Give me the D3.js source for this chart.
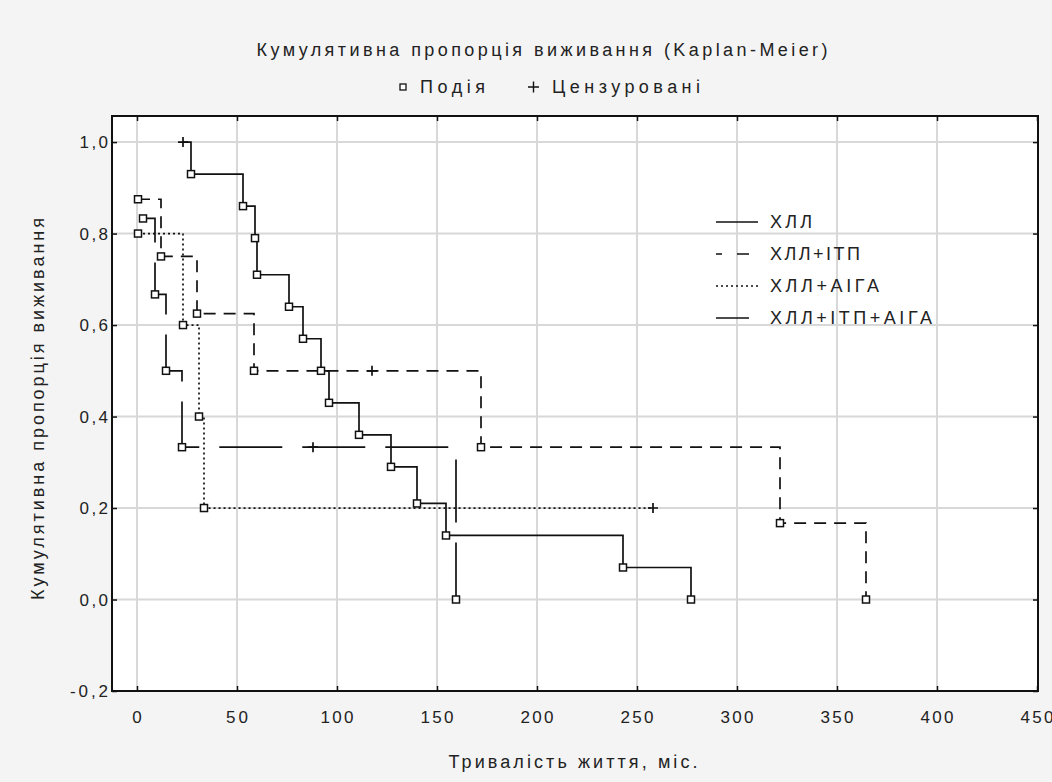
<!DOCTYPE html>
<html>
<head>
<meta charset="utf-8">
<script src="https://cdn.jsdelivr.net/npm/d3@7"></script>
<style>
  html, body { margin: 0; padding: 0; background: #f4f4f4; }
  svg text { font-family: "Liberation Sans", Arial, sans-serif; fill: #222; }
</style>
</head>
<body>
<div id="chart"></div>
<script>
// Дані (час, міс. / кумулятивна пропорція / 1 = цензуровано)
const seriesNames = ["ХЛЛ", "ХЛЛ+ІТП", "ХЛЛ+АІГА", "ХЛЛ+ІТП+АІГА"];

const hllT = [23, 27, 53, 59, 60, 76, 83, 92, 96, 111, 127, 140, 154.5, 243, 277];
const hllS = [1.0, 0.93, 0.86, 0.79, 0.71, 0.64, 0.57, 0.5, 0.43, 0.36, 0.29, 0.21, 0.14, 0.07, 0.0];
const hllC = [1, 0, 0, 0, 0, 0, 0, 0, 0, 0, 0, 0, 0, 0, 0];

const itpT = [0.5, 12, 30, 58.5, 117.5, 172, 321.5, 364.5];
const itpS = [0.875, 0.75, 0.625, 0.5, 0.5, 0.333, 0.167, 0.0];
const itpC = [0, 0, 0, 0, 1, 0, 0, 0];

const aigaT = [0.5, 23, 31, 33.5, 258];
const aigaS = [0.8, 0.6, 0.4, 0.2, 0.2];
const aigaC = [0, 0, 0, 0, 1];

const bothT = [3, 9, 14.5, 22.5, 88, 159.5];
const bothS = [0.833, 0.667, 0.5, 0.333, 0.333, 0.0];
const bothC = [0, 0, 0, 0, 1, 0];

const xTicks = [0, 50, 100, 150, 200, 250, 300, 350, 400, 450];
const yTicks = [-0.2, 0.0, 0.2, 0.4, 0.6, 0.8, 1.0];

// Стилі ліній
const dashes = [null, "12,8", "2,3", "63,20"];
const dashOffsets = [0, 0, 0, 27];
const legendDash = [null, "6,15,12,40", "2,3", null];
const legendLen = [42, 33, 42, 33];
const legendTextW = [42, 90, 109, 162];

const width = 1052, height = 782;
const plot = { left: 112, top: 116, right: 1038, bottom: 691 };

const build = (T, S, C) => T.map((t, i) => ({ t, s: S[i], c: C[i] }));
const series = [
  build(hllT, hllS, hllC),
  build(itpT, itpS, itpC),
  build(aigaT, aigaS, aigaC),
  build(bothT, bothS, bothC),
];

const svg = d3.select("#chart").append("svg")
  .attr("width", width).attr("height", height);

const x = d3.scaleLinear().domain([-12.5, 450]).range([plot.left, plot.right - 1]);
const y = d3.scaleLinear().domain([-0.2, 1.057]).range([plot.bottom, plot.top]);

// Поле графіка
svg.append("rect")
  .attr("x", plot.left).attr("y", plot.top)
  .attr("width", plot.right - plot.left).attr("height", plot.bottom - plot.top)
  .attr("fill", "white");

// Сітка
const grid = svg.append("g").attr("stroke", "#d8d8d8").attr("stroke-width", 2);
grid.selectAll("line.v").data(xTicks.filter(d => d < 450)).enter().append("line")
  .attr("x1", d => x(d)).attr("x2", d => x(d))
  .attr("y1", plot.top).attr("y2", plot.bottom);
grid.selectAll("line.h").data(yTicks.filter(d => d > -0.2)).enter().append("line")
  .attr("y1", d => y(d)).attr("y2", d => y(d))
  .attr("x1", plot.left).attr("x2", plot.right);

// Осі (мітки всередину)
const fmt = d => d3.format(".1f")(d).replace(".", ",").replace("−", "-");
const axB = svg.append("g").attr("transform", `translate(0,${plot.bottom})`)
  .call(d3.axisBottom(x).tickValues(xTicks).tickSize(-5).tickFormat(""));
const axT = svg.append("g").attr("transform", `translate(0,${plot.top})`)
  .call(d3.axisTop(x).tickValues(xTicks).tickSize(-5).tickFormat(""));
const axL = svg.append("g").attr("transform", `translate(${plot.left},0)`)
  .call(d3.axisLeft(y).tickValues(yTicks).tickSize(-5).tickFormat(""));
const axR = svg.append("g").attr("transform", `translate(${plot.right},0)`)
  .call(d3.axisRight(y).tickValues(yTicks).tickSize(-5).tickFormat(""));
[axB, axT, axL, axR].forEach(a => {
  a.select(".domain").remove();
  a.selectAll("line").attr("stroke", "#111").attr("stroke-width", 1.5);
});

svg.append("rect")
  .attr("x", plot.left).attr("y", plot.top)
  .attr("width", plot.right - plot.left).attr("height", plot.bottom - plot.top)
  .attr("fill", "none").attr("stroke", "#111").attr("stroke-width", 2);

// Підписи поділок
svg.append("g").selectAll("text").data(xTicks).enter().append("text")
  .attr("x", d => x(d)).attr("y", 723)
  .attr("text-anchor", "middle").style("font-size", "17px")
  .attr("textLength", d => String(d).length > 1 ? String(d).length * 11 : null)
  .attr("lengthAdjust", "spacing")
  .text(d => d);

svg.append("g").selectAll("text").data(yTicks).enter().append("text")
  .attr("x", 108).attr("y", d => y(d) + 6)
  .attr("text-anchor", "end").style("font-size", "17px")
  .attr("textLength", d => fmt(d).length * 9.5)
  .attr("lengthAdjust", "spacing")
  .text(d => fmt(d));

// Криві Каплана-Мейєра
const line = d3.line().x(d => x(d.t)).y(d => y(d.s)).curve(d3.curveStepAfter);
const curves = svg.append("g");
series.forEach((data, i) => {
  curves.append("path")
    .attr("d", line(data))
    .attr("fill", "none")
    .attr("stroke", "#111")
    .attr("stroke-width", 1.7)
    .attr("stroke-dasharray", dashes[i])
    .attr("stroke-dashoffset", dashOffsets[i]);
});

// Маркери
series.forEach((data) => {
  curves.selectAll(null).data(data.filter(d => !d.c)).enter().append("rect")
    .attr("x", d => x(d.t) - 3.5).attr("y", d => y(d.s) - 3.5)
    .attr("width", 7).attr("height", 7)
    .attr("fill", "white").attr("stroke", "#111").attr("stroke-width", 1.5);
  curves.selectAll(null).data(data.filter(d => d.c)).enter().append("path")
    .attr("d", d => `M${x(d.t) - 5},${y(d.s)}H${x(d.t) + 5}M${x(d.t)},${y(d.s) - 5}V${y(d.s) + 5}`)
    .attr("stroke", "#111").attr("stroke-width", 1.7);
});

// Легенда серій
const lg = svg.append("g");
seriesNames.forEach((name, i) => {
  const ly = 222 + i * 32;
  lg.append("line")
    .attr("x1", 716).attr("x2", 716 + legendLen[i])
    .attr("y1", ly).attr("y2", ly)
    .attr("stroke", "#111").attr("stroke-width", 1.7)
    .attr("stroke-dasharray", legendDash[i]);
  lg.append("text")
    .attr("x", 770).attr("y", ly + 6)
    .style("font-size", "18px")
    .attr("textLength", legendTextW[i]).attr("lengthAdjust", "spacing")
    .text(name);
});

// Заголовок та легенда маркерів
svg.append("text")
  .attr("x", 542).attr("y", 56).attr("text-anchor", "middle")
  .style("font-size", "18px")
  .attr("textLength", 571).attr("lengthAdjust", "spacing")
  .text("Кумулятивна пропорція виживання (Kaplan-Meier)");

svg.append("rect")
  .attr("x", 400).attr("y", 84).attr("width", 6).attr("height", 6)
  .attr("fill", "white").attr("stroke", "#111").attr("stroke-width", 1.3);
svg.append("text").attr("x", 420).attr("y", 93).style("font-size", "18px")
  .attr("textLength", 65).attr("lengthAdjust", "spacing").text("Подія");
svg.append("path")
  .attr("d", "M528,87H539M533.5,81.5V92.5")
  .attr("stroke", "#111").attr("stroke-width", 1.4);
svg.append("text").attr("x", 552).attr("y", 93).style("font-size", "18px")
  .attr("textLength", 148).attr("lengthAdjust", "spacing").text("Цензуровані");

// Назви осей
svg.append("text")
  .attr("x", 573).attr("y", 768).attr("text-anchor", "middle")
  .style("font-size", "18px")
  .attr("textLength", 249).attr("lengthAdjust", "spacing")
  .text("Тривалість життя, міс.");

svg.append("text")
  .attr("transform", "translate(44,409) rotate(-90)")
  .attr("text-anchor", "middle")
  .style("font-size", "18px")
  .attr("textLength", 382).attr("lengthAdjust", "spacing")
  .text("Кумулятивна пропорція виживання");
</script>
</body>
</html>
